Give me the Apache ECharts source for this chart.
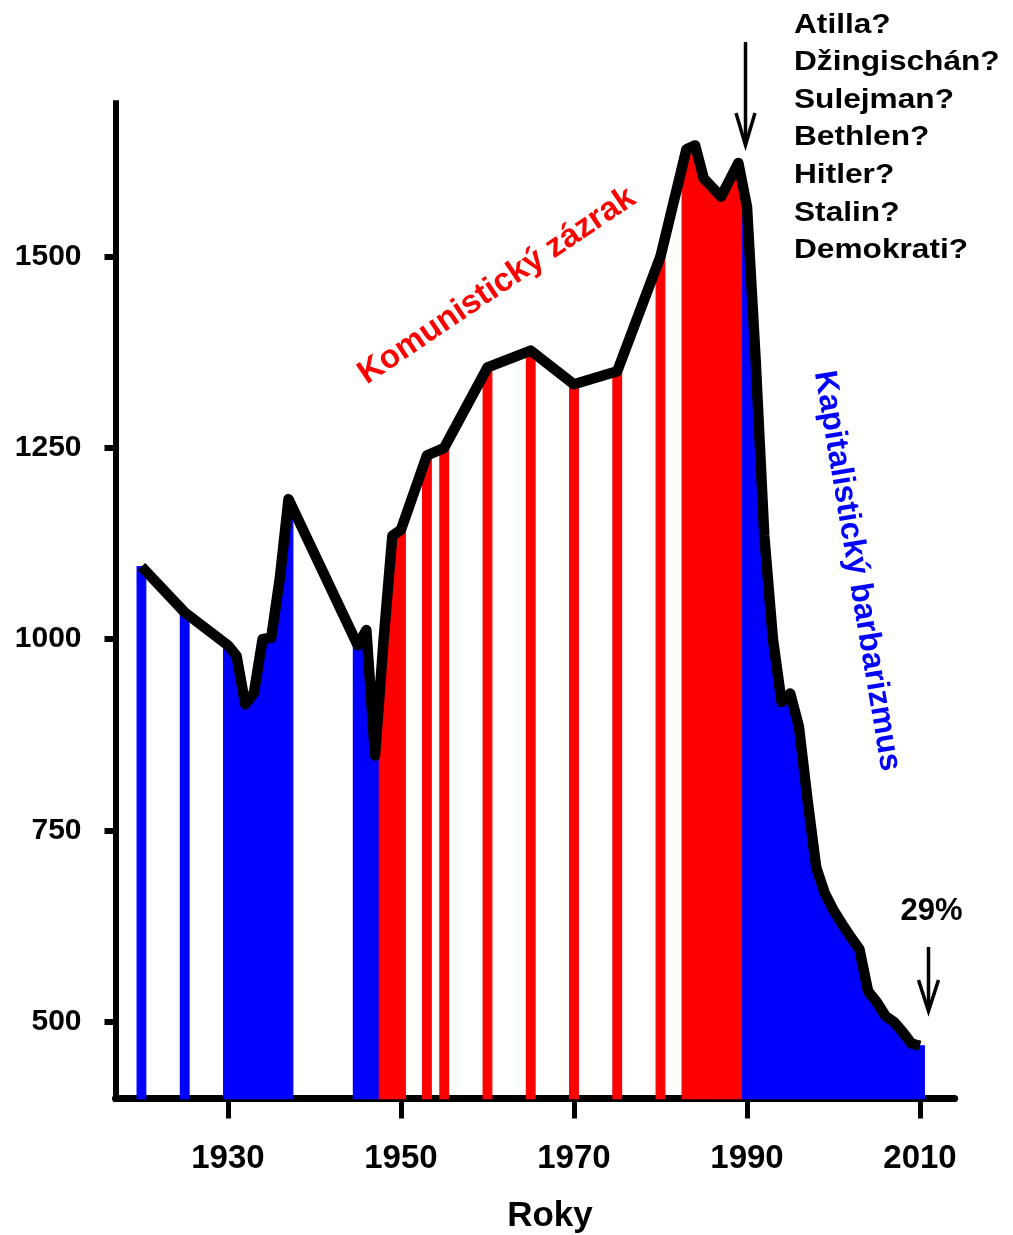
<!DOCTYPE html>
<html>
<head>
<meta charset="utf-8">
<script src="https://cdn.jsdelivr.net/npm/echarts@6/dist/echarts.min.js"></script>
<style>
html,body{margin:0;padding:0;background:#fff;}
#chart{width:1013px;height:1235px;}
</style>
</head>
<body>
<div id="chart"></div>
<script>
// ---- data ----
const years = [1920, 1925, 1930, 1931, 1932, 1933, 1934, 1935, 1936, 1937,
  1945, 1946, 1947, 1948, 1949, 1950, 1953, 1955, 1960, 1965, 1970, 1975, 1980,
  1983, 1984, 1985, 1986, 1987, 1988, 1989, 1990, 1991, 1992, 1993, 1994, 1995,
  1996, 1997, 1998, 1999, 2000, 2001, 2002, 2003, 2004, 2005, 2006, 2007, 2008,
  2009, 2010];
const values = [1095, 1035, 992, 978, 915, 930, 1000, 1002, 1080, 1183,
  992, 1012, 848, 1000, 1135, 1143, 1240, 1250, 1355, 1377, 1333, 1350, 1500,
  1640, 1645, 1602, 1590, 1578, 1600, 1622, 1565, 1365, 1135, 1000, 918, 929,
  886, 790, 702, 668, 646, 628, 611, 595, 540, 526, 508, 500, 487,
  472, 469];
const communistStart = 1948;
const communistEnd = 1989;
const xTickYears = [1930, 1950, 1970, 1990, 2010];
const yTickValues = [500, 750, 1000, 1250, 1500];
const xMin = 1917, xMax = 2014, yMin = 400, yMax = 1700;
const rulers = ['Atilla?', 'Džingischán?', 'Sulejman?', 'Bethlen?', 'Hitler?', 'Stalin?', 'Demokrati?'];
const titleCommunist = 'Komunistický zázrak';
const titleCapitalist = 'Kapitalistický barbarizmus';
const dropLabel = '29%';
const xAxisTitle = 'Roky';

const FONT = '"Liberation Sans", Arial, Helvetica, sans-serif';
const seriesData = years.map((y, i) => [y, values[i]]);

function renderColumn(params, api) {
  const i = params.dataIndex;
  const x = api.value(0), v = api.value(1);
  const edge = (j) => {
    if (j < 0 || j >= years.length) return v;
    return v + (values[j] - v) * (0.5 / Math.abs(years[j] - x));
  };
  const vl = edge(i - 1), vr = edge(i + 1);
  const pts = [
    api.coord([x - 0.5, yMin]),
    api.coord([x - 0.5, vl]),
    api.coord([x, v]),
    api.coord([x + 0.5, vr]),
    api.coord([x + 0.5, yMin])
  ];
  const color = (x >= communistStart && x <= communistEnd) ? '#ff0000' : '#0000ff';
  return {
    type: 'polygon',
    shape: { points: pts },
    style: { fill: color, stroke: color, lineWidth: 1.2 }
  };
}

function arrow(x, yTop, yTip, headLen, headHalf) {
  return {
    type: 'group',
    children: [
      { type: 'line', shape: { x1: x, y1: yTop, x2: x, y2: yTip - 3 },
        style: { stroke: '#000', lineWidth: 3.5 } },
      { type: 'polyline', shape: { points: [[x - headHalf, yTip - headLen], [x, yTip], [x + headHalf, yTip - headLen]] },
        style: { stroke: '#000', lineWidth: 3.5, fill: null, lineJoin: 'miter' } }
    ]
  };
}

const plain = (v) => String(v);

const chart = echarts.init(document.getElementById('chart'), null, { renderer: 'canvas' });
chart.setOption({
  animation: false,
  backgroundColor: '#ffffff',
  grid: { left: 115.5, right: 58.4, top: 103.3, bottom: 136.4, containLabel: false, outerBoundsMode: 'none' },
  xAxis: {
    type: 'value', min: xMin, max: xMax,
    axisLine: { show: true, onZero: false, lineStyle: { color: '#000', width: 7 } },
    axisTick: { show: true, customValues: xTickYears, length: 20, lineStyle: { color: '#000', width: 5 } },
    axisLabel: { customValues: xTickYears, formatter: plain, margin: 44, fontSize: 33, fontWeight: 'bold', color: '#000', fontFamily: FONT },
    splitLine: { show: false }
  },
  yAxis: {
    type: 'value', min: yMin, max: yMax,
    axisLine: { show: true, onZero: false, lineStyle: { color: '#000', width: 6, cap: 'square' } },
    axisTick: { show: true, customValues: yTickValues, length: 11, lineStyle: { color: '#000', width: 6 } },
    axisLabel: { customValues: yTickValues, formatter: plain, margin: 34, fontSize: 30, fontWeight: 'bold', color: '#000', fontFamily: FONT },
    splitLine: { show: false }
  },
  series: [
    {
      type: 'custom',
      data: seriesData,
      encode: { x: 0, y: 1 },
      renderItem: renderColumn,
      z: 2
    },
    {
      type: 'line',
      data: seriesData,
      symbol: 'none',
      lineStyle: { color: '#000', width: 10.5, join: 'round', cap: 'butt' },
      z: 3
    }
  ],
  graphic: [
    { type: 'text', x: 794, y: 6, scaleX: 1.13,
      style: { text: rulers.join('\n'), font: 'bold 28px ' + FONT, lineHeight: 37.6, fill: '#000', verticalAlign: 'top' } },
    { type: 'text', x: 497, y: 286, rotation: 34 * Math.PI / 180,
      style: { text: titleCommunist, font: 'bold 33px ' + FONT, fill: '#ff0000', align: 'center', verticalAlign: 'middle' } },
    { type: 'text', x: 857, y: 571, rotation: -80.5 * Math.PI / 180,
      style: { text: titleCapitalist, font: 'bold 32px ' + FONT, fill: '#0000ff', align: 'center', verticalAlign: 'middle' } },
    { type: 'text', x: 931.5, y: 911,
      style: { text: dropLabel, font: 'bold 31px ' + FONT, fill: '#000', align: 'center', verticalAlign: 'middle' } },
    { type: 'text', x: 550, y: 1216,
      style: { text: xAxisTitle, font: 'bold 35px ' + FONT, fill: '#000', align: 'center', verticalAlign: 'middle' } },
    arrow(745.5, 42, 145, 32, 9.5),
    arrow(928.5, 947, 1011, 31, 10)
  ]
});
</script>
</body>
</html>
